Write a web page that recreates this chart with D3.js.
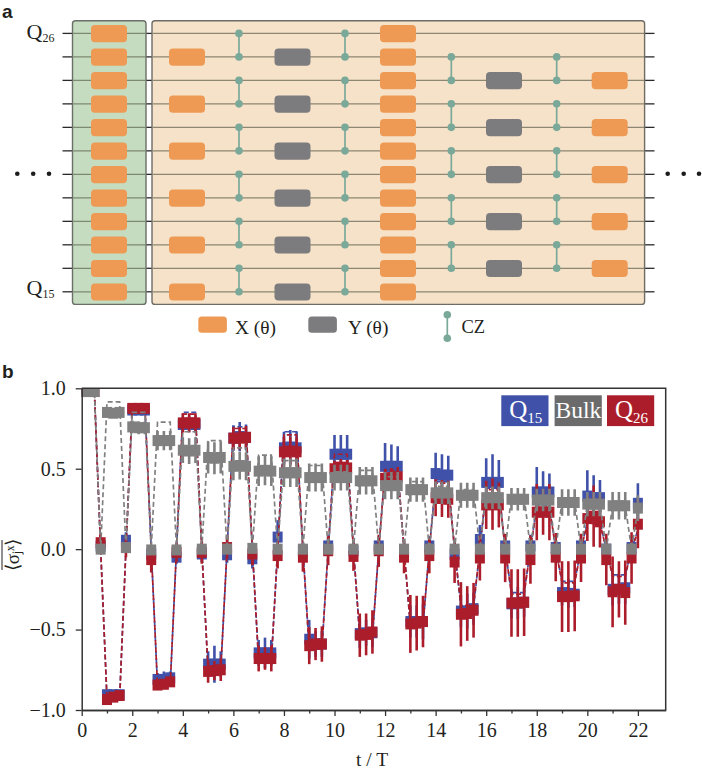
<!DOCTYPE html>
<html>
<head>
<meta charset="utf-8">
<script src="https://cdn.jsdelivr.net/npm/d3@7"></script>
<style>
  html, body {margin: 0; padding: 0; background: #fff; overflow: hidden;}
  svg {display: block;}
  text {font-family: "Liberation Serif", serif; fill: #231f20;}
</style>
</head>
<body>
<svg id="fig" width="702" height="770"></svg>
<script>
`use strict`;

// panel b, one row per period: k, k + .25, k + .5, k + .75
const times = [
  0, .25, .5, .75, 1, 1.25, 1.5, 1.75, 2, 2.25, 2.5, 2.75, 3, 3.25, 3.5, 3.75,
  4, 4.25, 4.5, 4.75, 5, 5.25, 5.5, 5.75, 6, 6.25, 6.5, 6.75, 7, 7.25, 7.5, 7.75,
  8, 8.25, 8.5, 8.75, 9, 9.25, 9.5, 9.75, 10, 10.25, 10.5, 10.75, 11, 11.25, 11.5, 11.75,
  12, 12.25, 12.5, 12.75, 13, 13.25, 13.5, 13.75, 14, 14.25, 14.5, 14.75, 15, 15.25, 15.5, 15.75,
  16, 16.25, 16.5, 16.75, 17, 17.25, 17.5, 17.75, 18, 18.25, 18.5, 18.75, 19, 19.25, 19.5, 19.75,
  20, 20.25, 20.5, 20.75, 21, 21.25, 21.5, 21.75, 22
];

const q15 = [
  .98, .98, .98, .02, -.905, -.905, -.905, .055, .865, .865, .865, -.03, -.81, -.81, -.8, -.05,
  .775, .78, .775, -.03, -.715, -.715, -.715, -.035, .69, .7, .695, -.06, -.645, -.645, -.645, .075,
  .63, .635, .63, -.01, -.56, -.59, -.59, .02, .59, .59, .59, -.01, -.525, -.52, -.52, .02,
  .515, .515, .515, -.01, -.45, -.45, -.45, .02, .47, .46, .46, -.03, -.385, -.385, -.37, .06,
  .415, .415, .415, .02, -.34, -.335, -.33, .02, .355, .355, .355, .01, -.27, -.275, -.28, .02,
  .33, .32, .32, 0, -.25, -.25, -.24, .01, .285
];
const q26 = [
  .98, .98, .98, .04, -.935, -.92, -.91, .01, .875, .875, .875, -.065, -.845, -.84, -.825, -.02,
  .785, .785, .785, -.02, -.76, -.755, -.75, .01, .69, .69, .695, -.03, -.68, -.68, -.68, -.04,
  .605, .61, .605, -.05, -.6, -.59, -.59, -.01, .5, .51, .505, -.045, -.535, -.53, -.515, -.01,
  .44, .445, .45, -.05, -.465, -.46, -.45, -.04, .32, .315, .31, -.08, -.405, -.4, -.38, -.055,
  .275, .28, .275, -.055, -.335, -.335, -.33, -.065, .23, .23, .23, -.05, -.295, -.295, -.29, -.055,
  .19, .205, .17, -.065, -.265, -.25, -.27, -.055, .155
];
const bulk = [
  .98, .98, .98, 0, .85, .845, .85, .01, .76, .755, .755, -.005, .675, .675, .675, -.005,
  .615, .61, .615, 0, .57, .565, .57, 0, .515, .52, .515, .005, .485, .49, .485, 0,
  .475, .475, .475, 0, .445, .445, .445, 0, .445, .445, .445, 0, .425, .425, .425, 0,
  .395, .395, .395, 0, .37, .37, .37, 0, .35, .35, .35, 0, .335, .335, .335, 0,
  .32, .32, .32, 0, .31, .31, .31, 0, .305, .305, .305, 0, .29, .29, .29, 0,
  .28, .28, .28, 0, .27, .27, .27, 0, .255
];

const q15Err = [
  .02, .02, .02, .04, .02, .02, .02, .05, .03, .03, .03, .04, .04, .05, .04, .04,
  .04, .05, .04, .05, .08, .115, .08, .05, .08, .09, .08, .06, .08, .095, .08, .105,
  .1, .105, .1, .05, .12, .08, .08, .06, .12, .12, .12, .06, .09, .08, .09, .06,
  .145, .135, .125, .06, .1, .1, .11, .06, .13, .13, .12, .07, .1, .11, .1, .09,
  .15, .175, .14, .07, .09, .1, .09, .07, .155, .13, .115, .07, .08, .09, .08, .07,
  .16, .14, .11, .07, .1, .09, .1, .07, .125
];
const q26Err = [
  .02, .02, .02, .06, .02, .02, .02, .06, .03, .03, .03, .08, .03, .03, .03, .06,
  .06, .06, .06, .07, .07, .06, .07, .07, .07, .07, .07, .07, .08, .07, .08, .08,
  .09, .09, .09, .09, .115, .1, .11, .09, .05, .05, .05, .09, .135, .13, .135, .1,
  .06, .06, .06, .1, .18, .17, .16, .11, .115, .115, .115, .13, .2, .17, .17, .14,
  .15, .16, .14, .15, .21, .21, .21, .15, .175, .14, .175, .15, .22, .22, .22, .15,
  .14, .19, .16, .16, .22, .175, .2, .16, .15
];
const bulkErr = [
  .02, .02, .02, .03, .03, .03, .03, .03, .04, .04, .04, .03, .06, .06, .06, .03,
  .08, .08, .08, .03, .1, .1, .1, .03, .087, .087, .087, .03, .093, .093, .093, .03,
  .088, .088, .088, .03, .087, .087, .087, .03, .08, .08, .08, .03, .085, .085, .085, .03,
  .085, .085, .085, .03, .075, .075, .075, .03, .07, .07, .07, .03, .078, .078, .078, .03,
  .07, .07, .07, .03, .07, .07, .07, .03, .07, .07, .07, .03, .083, .083, .083, .03,
  .075, .075, .075, .03, .085, .085, .085, .03, .08
];

// dashed curves (numerics), same time grid
const q15Sim = [
  .99, .99, .99, 0, -.93, -.93, -.93, 0, .89, .89, .89, 0, -.85, -.85, -.85, 0,
  .85, .85, .85, 0, -.76, -.76, -.76, 0, .76, .76, .76, 0, -.7, -.7, -.7, 0,
  .73, .73, .73, 0, -.62, -.62, -.62, 0, .6, .6, .6, 0, -.55, -.55, -.55, 0,
  .5, .5, .5, 0, -.48, -.48, -.48, 0, .42, .42, .42, 0, -.36, -.36, -.36, 0,
  .38, .38, .38, 0, -.27, -.27, -.27, 0, .27, .27, .27, 0, -.2, -.2, -.2, 0,
  .17, .17, .17, 0, -.16, -.16, -.16, 0, .12
];
const q26Sim = [
  .99, .99, .99, 0, -.93, -.93, -.93, 0, .9, .9, .9, 0, -.85, -.85, -.85, 0,
  .84, .84, .84, 0, -.75, -.75, -.75, 0, .75, .75, .75, 0, -.7, -.7, -.7, 0,
  .71, .71, .71, 0, -.62, -.62, -.62, 0, .59, .59, .59, 0, -.54, -.54, -.54, 0,
  .49, .49, .49, 0, -.47, -.47, -.47, 0, .41, .41, .41, 0, -.35, -.35, -.35, 0,
  .37, .37, .37, 0, -.28, -.28, -.28, 0, .26, .26, .26, 0, -.21, -.21, -.21, 0,
  .16, .16, .16, 0, -.17, -.17, -.17, 0, .11
];
const bulkSim = [
  .99, .99, .99, 0, .915, .915, .915, 0, .85, .85, .85, 0, .79, .79, .79, 0,
  .73, .73, .73, 0, .675, .675, .675, 0, .63, .63, .63, 0, .585, .585, .585, 0,
  .55, .55, .55, 0, .52, .52, .52, 0, .48, .48, .48, 0, .49, .49, .49, 0,
  .45, .45, .45, 0, .42, .42, .42, 0, .39, .39, .39, 0, .37, .37, .37, 0,
  .35, .35, .35, 0, .33, .33, .33, 0, .31, .31, .31, 0, .3, .3, .3, 0,
  .28, .28, .28, 0, .27, .27, .27, 0, .25
];

const xTicks = [0, 2, 4, 6, 8, 10, 12, 14, 16, 18, 20, 22];
const xMinor = [1, 3, 5, 7, 9, 11, 13, 15, 17, 19, 21];
const yTicks = [-1, -.5, 0, .5, 1];
const yLabels = [`\u22121.0`, `\u22120.5`, `0.0`, `0.5`, `1.0`];

// panel a, gates per column: qubit rows counted from Q26 downward
const qubits = d3.range(12);
const evenRows = [0, 2, 4, 6, 8, 10];
const oddRows = [1, 3, 5, 7, 9, 11];
const innerRows = [2, 4, 6, 8, 10];
const gateCols = [
  {at: 109, kind: `X`, rows: qubits},
  {at: 187, kind: `X`, rows: oddRows},
  {at: 292.5, kind: `Y`, rows: oddRows},
  {at: 398, kind: `X`, rows: qubits},
  {at: 504, kind: `Y`, rows: innerRows},
  {at: 609.7, kind: `X`, rows: innerRows}
];
const czCols = [
  {at: 239, rows: evenRows},
  {at: 345, rows: evenRows},
  {at: 451.3, rows: [1, 3, 5, 7, 9]},
  {at: 556.7, rows: [1, 3, 5, 7, 9]}
];

const ORANGE = `#ee9a55`, SLATE = `#7c7b7e`, TEAL = `#7aa99a`;
const BLUE = `#3f51a8`, RED = `#ac1d2b`, GREY = `#808080`;

const svg = d3.select(`#fig`);

let sub = (sel, base, small, baseSize, smallSize, drop) => {
  sel.append(`tspan`).style(`font-size`, baseSize + `px`).text(base);
  sel.append(`tspan`).attr(`dy`, drop).style(`font-size`, smallSize + `px`).text(small);
};

// ---- panel a
const A = svg.append(`g`);

const rowY = d3.scaleLinear().domain([0, 11]).range([33.4, 291.8]);

let hlines = (g, x0, x1, color) => {
  g.selectAll(null).data(qubits).enter().append(`line`)
    .attr(`x1`, x0).attr(`x2`, x1)
    .attr(`y1`, rowY).attr(`y2`, rowY)
    .attr(`stroke`, color).attr(`stroke-width`, 1.3);
};

hlines(A, 62.5, 72.5, `#2a2a2a`);
hlines(A, 146, 152, `#2a2a2a`);
hlines(A, 644.5, 654.5, `#2a2a2a`);

A.append(`rect`).attr(`x`, 72.5).attr(`y`, 20.8).attr(`width`, 73.5).attr(`height`, 283.6).attr(`rx`, 3)
  .attr(`fill`, `#c5dcc0`).attr(`stroke`, `#6a6f68`).attr(`stroke-width`, 1.4);
A.append(`rect`).attr(`x`, 152).attr(`y`, 20.8).attr(`width`, 492.6).attr(`height`, 283.6).attr(`rx`, 3)
  .attr(`fill`, `#f5e2c8`).attr(`stroke`, `#6f6c66`).attr(`stroke-width`, 1.4);

hlines(A, 73, 145.5, `#7d8a70`);
hlines(A, 152.5, 644, `#8c8672`);

czCols.forEach(col => {
  col.rows.forEach(r => {
    A.append(`line`).attr(`x1`, col.at).attr(`x2`, col.at)
      .attr(`y1`, rowY(r)).attr(`y2`, rowY(r + 1))
      .attr(`stroke`, TEAL).attr(`stroke-width`, 1.7);
    [r, r + 1].forEach(q => {
      A.append(`circle`).attr(`cx`, col.at).attr(`cy`, rowY(q)).attr(`r`, 3.8).attr(`fill`, TEAL);
    });
  });
});

gateCols.forEach(col => {
  A.selectAll(null).data(col.rows).enter().append(`rect`)
    .attr(`x`, col.at - 18).attr(`y`, d => rowY(d) - 8.4)
    .attr(`width`, 36).attr(`height`, 17.2).attr(`rx`, 4)
    .attr(`fill`, col.kind === `X` ? ORANGE : SLATE);
});

[17.3, 33.2, 49, 667.7, 683.7, 699].forEach(x => {
  A.append(`circle`).attr(`cx`, x).attr(`cy`, 173.8).attr(`r`, 2.3).attr(`fill`, `#1d1d1d`);
});

A.append(`text`).attr(`x`, 26.5).attr(`y`, 38.5).call(sub, `Q`, `26`, 22, 12, 3);
A.append(`text`).attr(`x`, 26.5).attr(`y`, 295).call(sub, `Q`, `15`, 22, 12, 3);

A.append(`text`).attr(`x`, 2).attr(`y`, 17.5).style(`font-family`, `"Liberation Sans"`)
  .style(`font-weight`, `bold`).style(`font-size`, `19px`).text(`a`);
svg.append(`text`).attr(`x`, 2).attr(`y`, 378).style(`font-family`, `"Liberation Sans"`)
  .style(`font-weight`, `bold`).style(`font-size`, `19px`).text(`b`);

// gate key
A.append(`rect`).attr(`x`, 198.3).attr(`y`, 316.6).attr(`width`, 28.6).attr(`height`, 16.2).attr(`rx`, 3.5).attr(`fill`, ORANGE);
A.append(`rect`).attr(`x`, 308.3).attr(`y`, 316.6).attr(`width`, 28.6).attr(`height`, 16.2).attr(`rx`, 3.5).attr(`fill`, SLATE);
A.append(`text`).attr(`x`, 235).attr(`y`, 334).style(`font-size`, `19.4px`).text(`X (\u03b8)`);
A.append(`text`).attr(`x`, 348).attr(`y`, 334).style(`font-size`, `19.4px`).text(`Y (\u03b8)`);
A.append(`line`).attr(`x1`, 447.3).attr(`x2`, 447.3).attr(`y1`, 314.7).attr(`y2`, 338.3)
  .attr(`stroke`, TEAL).attr(`stroke-width`, 1.7);
[314.7, 338.3].forEach(y => {
  A.append(`circle`).attr(`cx`, 447.3).attr(`cy`, y).attr(`r`, 3.8).attr(`fill`, TEAL);
});
A.append(`text`).attr(`x`, 461.5).attr(`y`, 333).style(`font-size`, `18.5px`).text(`CZ`);

// ---- panel b
const x = d3.scaleLinear().domain([0, 23.1]).range([81.7, 665.7]);
const y = d3.scaleLinear().domain([-1, 1]).range([710, 388.3]);

svg.append(`clipPath`).attr(`id`, `plotClip`).append(`rect`)
  .attr(`x`, x(0)).attr(`y`, y(1)).attr(`width`, x(23.1) - x(0)).attr(`height`, y(-1) - y(1));

const plot = svg.append(`g`).attr(`clip-path`, `url(#plotClip)`);

const simLine = d3.line().x((d, i) => x(times[i])).y(d => y(d));

let drawSeries = (vals, errs, sim, color, dash) => {

  plot.append(`path`).datum(sim)
    .attr(`d`, simLine)
    .attr(`fill`, `none`)
    .attr(`stroke`, color)
    .attr(`stroke-width`, 1.7)
    .attr(`stroke-dasharray`, dash);

  plot.selectAll(null).data(vals).enter().append(`line`)
    .attr(`x1`, (d, i) => x(times[i])).attr(`x2`, (d, i) => x(times[i]))
    .attr(`y1`, (d, i) => y(d + errs[i])).attr(`y2`, (d, i) => y(d - errs[i]))
    .attr(`stroke`, color)
    .attr(`stroke-width`, 2.6);

  plot.selectAll(null).data(vals).enter().append(`rect`)
    .attr(`x`, (d, i) => x(times[i]) - 5)
    .attr(`y`, d => y(d) - 5.5)
    .attr(`width`, 10).attr(`height`, 11)
    .attr(`fill`, color);
};

drawSeries(q15, q15Err, q15Sim, BLUE, `5 2.5`);
drawSeries(q26, q26Err, q26Sim, RED, `5 2.5`);
drawSeries(bulk, bulkErr, bulkSim, GREY, `5 3`);

let styleAxis = g => {
  g.selectAll(`.domain`).attr(`stroke`, `#333`).attr(`stroke-width`, 1.5);
  g.selectAll(`.tick line`).attr(`stroke`, `#333`).attr(`stroke-width`, 1.3);
  g.selectAll(`text`).style(`font-family`, `"Liberation Serif"`).style(`font-size`, `20px`).attr(`fill`, `#231f20`);
};

svg.append(`g`).attr(`transform`, `translate(0,${y(-1)})`)
  .call(d3.axisBottom(x).tickValues(xMinor).tickSize(3.5).tickFormat(``).tickSizeOuter(0))
  .call(styleAxis);

svg.append(`g`).attr(`transform`, `translate(0,${y(-1)})`)
  .call(d3.axisBottom(x).tickValues(xTicks).tickSize(6).tickPadding(7).tickSizeOuter(0))
  .call(styleAxis);

svg.append(`g`).attr(`transform`, `translate(${x(0)},0)`)
  .call(d3.axisLeft(y).tickValues(yTicks).tickSize(6).tickPadding(10).tickSizeOuter(0)
    .tickFormat((d, i) => yLabels[i]))
  .call(styleAxis);

svg.append(`path`)
  .attr(`d`, d3.line()([[x(0), y(1)], [x(23.1), y(1)], [x(23.1), y(-1)]]))
  .attr(`fill`, `none`).attr(`stroke`, `#333`).attr(`stroke-width`, 1.5);

svg.append(`text`).attr(`x`, 372).attr(`y`, 765.5).attr(`text-anchor`, `middle`)
  .style(`font-size`, `19.5px`).text(`t / T`);

// y title, mean over sites
const yTitle = svg.append(`g`).attr(`transform`, `translate(19,555) rotate(-90)`);
yTitle.append(`text`).attr(`text-anchor`, `middle`).style(`font-size`, `19px`).text(`\u27e8\u03c3\u2c7c\u02e3\u27e9`);
yTitle.append(`line`).attr(`x1`, -15).attr(`x2`, 15).attr(`y1`, -17).attr(`y2`, -17)
  .attr(`stroke`, `#231f20`).attr(`stroke-width`, 1);

// legend chips
const chips = [
  {x0: 501.3, fill: BLUE, base: `Q`, small: `15`},
  {x0: 554.6, fill: `#6b6b6b`, base: `Bulk`, small: ``},
  {x0: 607, fill: RED, base: `Q`, small: `26`}
];

chips.forEach(c => {
  svg.append(`rect`).attr(`x`, c.x0).attr(`y`, 395.3).attr(`width`, 47.2).attr(`height`, 30.8).attr(`fill`, c.fill);
  let t = svg.append(`text`).attr(`x`, c.x0 + (c.small ? 8 : 1)).attr(`y`, 417.5).style(`fill`, `#fff`);
  t.call(sub, c.base, c.small, c.small ? 25 : 23.5, 15, 5);
  t.selectAll(`tspan`).style(`fill`, `#fff`);
});
</script>
</body>
</html>
